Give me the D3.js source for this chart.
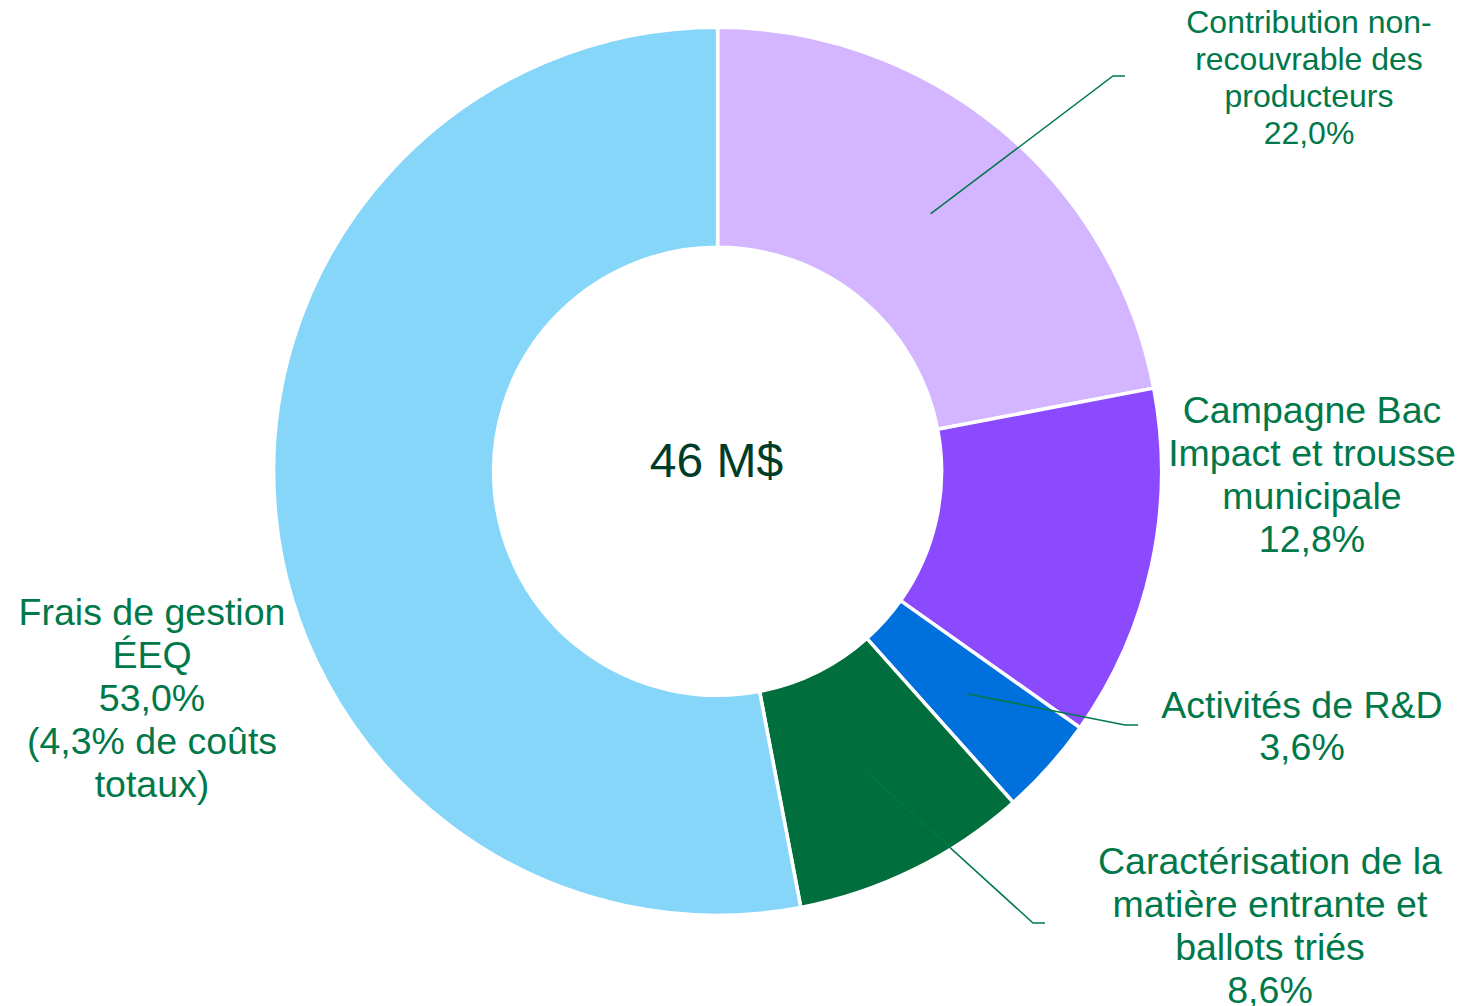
<!DOCTYPE html>
<html>
<head>
<meta charset="utf-8">
<script src="https://cdn.jsdelivr.net/npm/d3@7"></script>
<style>
  html, body { margin: 0; padding: 0; background: #fff; }
  svg { display: block; font-family: "Liberation Sans", Arial, sans-serif; }
</style>
</head>
<body>
<div id="chart"></div>
<script>
// data
const categories = [
  'Contribution non-recouvrable des producteurs',
  'Campagne Bac Impact et trousse municipale',
  'Activités de R&D',
  'Caractérisation de la matière entrante et ballots triés',
  'Frais de gestion ÉEQ'
]
const shares = [22.0, 12.8, 3.6, 8.6, 53.0]
const labelLines = [
  ['Contribution non-', 'recouvrable des', 'producteurs', '22,0%'],
  ['Campagne Bac', 'Impact et trousse', 'municipale', '12,8%'],
  ['Activités de R&D', '3,6%'],
  ['Caractérisation de la', 'matière entrante et', 'ballots triés', '8,6%'],
  ['Frais de gestion', 'ÉEQ', '53,0%', '(4,3% de coûts', 'totaux)']
]
const centerLabel = '46 M$'

const COLORS = ['#d3b6ff', '#8c4aff', '#0070dd', '#006e3d', '#86d6fa']
const TEXT_GREEN = '#00784a'
const CENTER_GREEN = '#003d28'

const WIDTH = 1483
const HEIGHT = 1006
const CX = 717.6
const CY = 471.3
const OUTER = 444
const INNER = 224

// label placement (x, first baseline, line height, font size) + leader elbow
const labelLayout = [
  {x: 1309, y: 33, lh: 37, fs: 32, elbow: [1113, 76], end: 1125},
  {x: 1312, y: 423, lh: 43, fs: 37.5, elbow: null},
  {x: 1302, y: 718, lh: 42, fs: 37.5, elbow: [1125, 725], end: 1138},
  {x: 1270, y: 874, lh: 43, fs: 37.5, elbow: [1033, 923], end: 1045},
  {x: 152, y: 625, lh: 43, fs: 37.5, elbow: null}
]

const svg = d3.select('#chart').append('svg')
  .attr('width', WIDTH)
  .attr('height', HEIGHT)

const g = svg.append('g')
  .attr('transform', `translate(${CX}, ${CY})`)

const pie = d3.pie().sort(null).value(d => d)
const arcs = pie(shares)

const arc = d3.arc().innerRadius(INNER).outerRadius(OUTER)

g.selectAll('path.slice')
  .data(arcs)
  .enter()
  .append('path')
  .attr('class', 'slice')
  .attr('d', arc)
  .attr('fill', (d, i) => COLORS[i])
  .attr('stroke', '#fff')
  .attr('stroke-width', 3.5)
  .attr('stroke-linejoin', 'round')

// leader lines from slice centroid
arcs.forEach((d, i) => {
  const lay = labelLayout[i]
  if (!lay.elbow) return
  const c = arc.centroid(d)
  const pts = [
    [c[0] + CX, c[1] + CY],
    lay.elbow,
    [lay.end, lay.elbow[1]]
  ]
  svg.append('path')
    .attr('d', d3.line()(pts))
    .attr('fill', 'none')
    .attr('stroke', TEXT_GREEN)
    .attr('stroke-width', 1.5)
})

// labels
labelLines.forEach((lines, i) => {
  const lay = labelLayout[i]
  const t = svg.append('text')
    .attr('text-anchor', 'middle')
    .attr('font-size', lay.fs + 'px')
    .attr('fill', TEXT_GREEN)
  lines.forEach((line, j) => {
    t.append('tspan')
      .attr('x', lay.x)
      .attr('y', lay.y + j * lay.lh)
      .text(line)
  })
})

// center total
svg.append('text')
  .attr('x', 716.5)
  .attr('y', 477)
  .attr('text-anchor', 'middle')
  .attr('font-size', '48px')
  .attr('fill', CENTER_GREEN)
  .text(centerLabel)
</script>
</body>
</html>
